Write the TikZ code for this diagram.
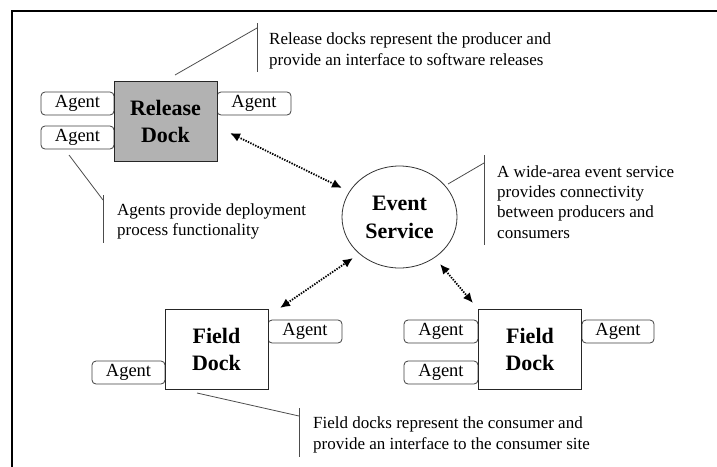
\documentclass[tikz,border=0pt]{standalone}
\usepackage{fontspec}
\setmainfont{Liberation Serif}
\usetikzlibrary{arrows.meta,shapes.geometric,calc}

\begin{document}
\begin{tikzpicture}[x=1pt,y=-1pt,
  agent/.style={draw=black!75, line width=0.8pt, rounded corners=4pt,
    minimum height=23pt, inner sep=0pt, fill=white,
    font=\fontsize{18.5}{20}\selectfont},
  dock/.style={draw=black!85, line width=1pt, minimum width=103pt,
    minimum height=80pt, inner sep=0pt, align=center,
    font=\fontsize{22}{27}\selectfont\bfseries},
  link/.style={line width=1.8pt, dash pattern=on 1.4pt off 1.3pt,
    {Latex[length=10pt,width=9pt]}-{Latex[length=10pt,width=9pt]}},
  note/.style={anchor=base west, align=left, inner sep=0pt,
    font=\fontsize{17}{21}\selectfont},
  leader/.style={draw=black!70, line width=0.8pt},
]
\useasboundingbox (0,0) rectangle (717,466);

% frame (left and top edges only)
\draw[line width=2pt] (12,470) -- (12,11) -- (720,11);

% release dock and its agents
\node[agent, minimum width=73pt] (ra1) at (77.5,103.5) {Agent};
\node[agent, minimum width=73pt] (ra2) at (77.5,137.5) {Agent};
\node[agent, minimum width=74pt] (ra3) at (254,103.5) {Agent};
\node[dock, fill={rgb,255:red,178;green,178;blue,178}] (rd) at (165.5,121) {Release\\Dock};

% event service
\node[ellipse, draw=black!80, line width=0.8pt, minimum width=115pt,
  minimum height=102pt, inner sep=0pt, align=center,
  font=\fontsize{22}{28}\selectfont\bfseries] (es) at (399.5,217) {Event\\Service};

% field dock (left)
\node[agent, minimum width=74pt] (fa1) at (305,331.5) {Agent};
\node[agent, minimum width=73pt] (fa2) at (128.5,372.5) {Agent};
\node[dock, fill=white] (fd1) at (216.5,349) {Field\\Dock};

% field dock (right)
\node[agent, minimum width=74pt] (fb1) at (441,331.5) {Agent};
\node[agent, minimum width=74pt] (fb2) at (441,372.5) {Agent};
\node[agent, minimum width=72pt] (fb3) at (618,331.5) {Agent};
\node[dock, fill=white] (fd2) at (530,349) {Field\\Dock};

% arrow end points
\coordinate (rdE) at (230,133);
\coordinate (esA) at (342,188);
\coordinate (fd1E) at (280,308);
\coordinate (esB) at (353,258);
\coordinate (esC) at (440,264);
\coordinate (fd2E) at (473,303);

\draw[link] (rdE) -- (esA);
\draw[link] (fd1E) -- (esB);
\draw[link] (esC) -- (fd2E);

% callouts (note nodes are placed by the baseline of their last line)
\coordinate (c1a) at (175,75);  \coordinate (c1b) at (257,28);
\coordinate (c1t) at (257,23);  \coordinate (c1u) at (257,72);
\draw[leader] (c1a) -- (c1b);
\draw[leader] (c1t) -- (c1u);
\node[note] (n1) at (269,65) {Release docks represent the producer and\\provide an interface to software releases};

\coordinate (c2a) at (69,155);  \coordinate (c2b) at (103,200);
\coordinate (c2t) at (103,195); \coordinate (c2u) at (103,243);
\draw[leader] (c2a) -- (c2b);
\draw[leader] (c2t) -- (c2u);
\node[note, font=\fontsize{17}{20}\selectfont] (n2) at (117,235) {Agents provide deployment\\process functionality};

\coordinate (c3a) at (448,184); \coordinate (c3b) at (484,163);
\coordinate (c3t) at (484,155); \coordinate (c3u) at (484,245);
\draw[leader] (c3a) -- (c3b);
\draw[leader] (c3t) -- (c3u);
\node[note, font=\fontsize{17}{20.3}\selectfont] (n3) at (497,238) {A wide-area event service\\provides connectivity\\between producers and\\consumers};

\coordinate (c4a) at (197,393); \coordinate (c4b) at (299,416);
\coordinate (c4t) at (299,408); \coordinate (c4u) at (299,457);
\draw[leader] (c4a) -- (c4b);
\draw[leader] (c4t) -- (c4u);
\node[note] (n4) at (313,449) {Field docks represent the consumer and\\provide an interface to the consumer site};
\end{tikzpicture}
\end{document}
